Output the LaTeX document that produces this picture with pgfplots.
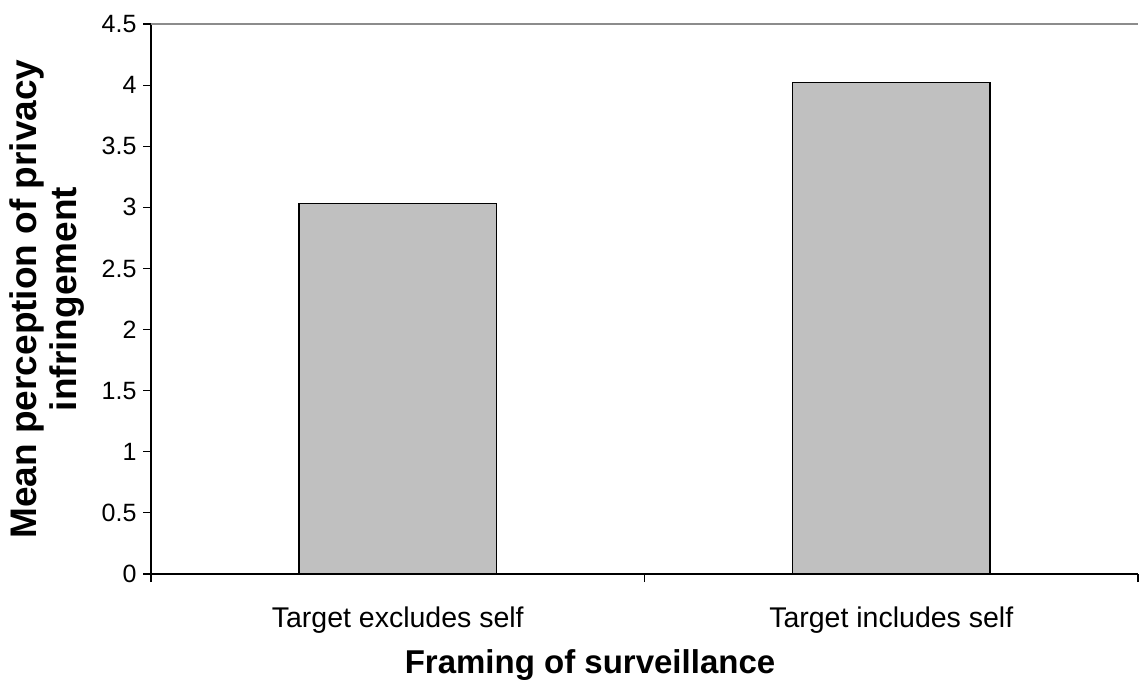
\documentclass[border=0pt]{standalone}
\usepackage{fontspec}
\setmainfont{Liberation Sans}
\usepackage{pgfplots}
\pgfplotsset{compat=1.18}
\definecolor{barfill}{HTML}{C0C0C0}
\definecolor{topline}{HTML}{8C8C8C}
\newcommand\tickfont{\fontsize{25}{27}\selectfont}
\begin{document}
\begin{tikzpicture}[x=1pt,y=1pt]
\useasboundingbox (0,0) rectangle (1142,680);
\begin{axis}[
  at={(151pt,106pt)}, anchor=south west,
  scale only axis, width=987pt, height=550pt,
  xmin=-0.5, xmax=1.5, ymin=0, ymax=4.5,
  axis x line*=bottom, axis y line*=left,
  axis line style={line width=1.2pt, -},
  every tick/.style={black, line width=1.1pt},
  tick align=outside, major tick length=8pt,
  xtick={-0.5,0.5,1.5}, xticklabels={},
  extra x ticks={0,1},
  extra x tick labels={Target excludes self, Target includes self},
  extra x tick style={major tick length=0pt,
    tick label style={font=\fontsize{28.5}{30}\selectfont, anchor=base, yshift=-53pt}},
  ytick={0,0.5,1,1.5,2,2.5,3,3.5,4,4.5},
  yticklabel={\tickfont\pgfmathprintnumber[assume math mode=true]{\tick}},
  yticklabel style={xshift=-3pt},
  ylabel={Mean perception of privacy\\infringement},
  ylabel style={align=center, font=\bfseries\fontsize{37}{40}\selectfont,
    at={(axis description cs:-0.1054,0.5)}, anchor=center},
  xlabel={Framing of surveillance},
  xlabel style={font=\bfseries\fontsize{33}{36}\selectfont,
    at={(axis description cs:0.4448,-0.1818)}, anchor=base},
  clip=false,
]
\draw[topline, line width=1.2pt] (rel axis cs:0,1) -- (rel axis cs:1,1);
\addplot[ybar, bar width=0.4, fill=barfill, draw=black, line width=1.3pt]
  coordinates {(0,3.03) (1,4.02)};
\end{axis}
\end{tikzpicture}
\end{document}
